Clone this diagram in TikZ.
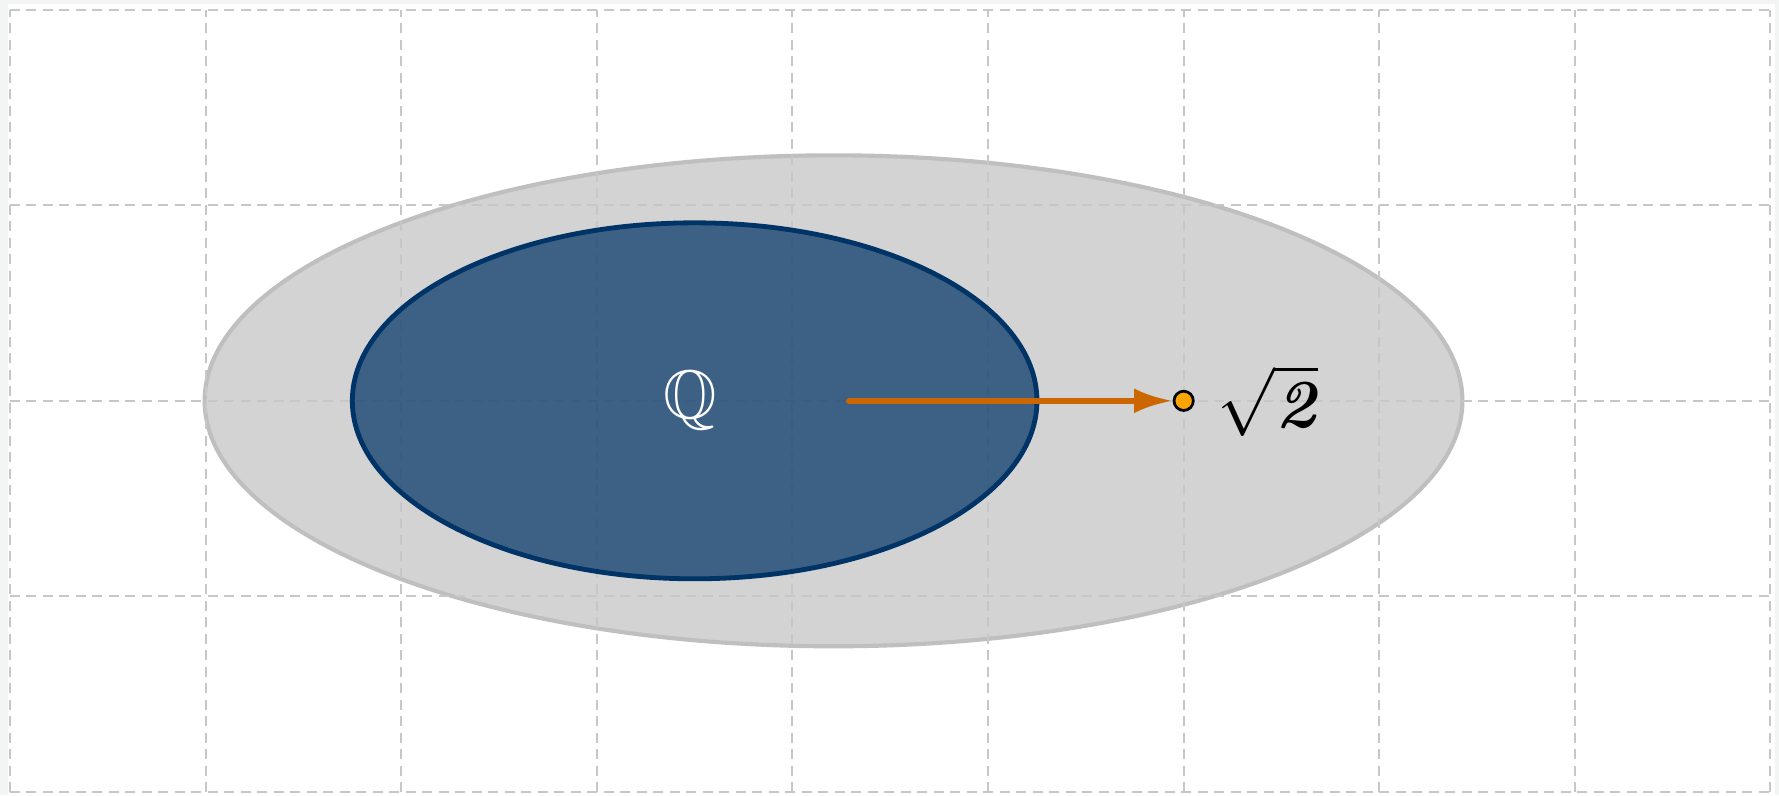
\documentclass[tikz,border=0pt]{standalone}
\usepackage{amssymb}
\usetikzlibrary{arrows.meta}
\definecolor{navy}{HTML}{003366}
\definecolor{arrowor}{HTML}{CC6600}
\definecolor{ptor}{HTML}{FFA500}
\definecolor{edgegray}{HTML}{F3F5F5}
\definecolor{setgray}{HTML}{D3D3D3}
\begin{document}
\begin{tikzpicture}[
  gridline/.style={draw=black!22, line width=0.3pt, dash pattern=on 1.4pt off 1pt},
  outerset/.style={draw=black!25, line width=0.6pt, fill=setgray},
  innerset/.style={draw=navy, line width=0.7pt, fill=navy, fill opacity=0.71},
  ptdot/.style={circle, draw=black, line width=0.4pt, fill=ptor, inner sep=0pt, minimum size=2.8pt},
  arrowline/.style={draw=arrowor, line width=0.9pt, line cap=round, -{Latex[length=5.6pt,width=3.6pt]}},
  setlabel/.style={text=white},
  ptlabel/.style={anchor=west, text=black}
]
\path[use as bounding box, fill=edgegray] (-0.0511,-0.0153) rectangle (9.0434,4.0491);
\fill[white] (-0.0102,-0.0153) rectangle (9.023,4.029);
\draw[outerset] (4.21,2) ellipse [x radius=3.215, y radius=1.255];
\draw[gridline] (0,0) grid (9,4);
\draw[innerset] (3.5,2) ellipse [x radius=1.75, y radius=0.91];
\node[setlabel] (Q) at (3.48,2) {$\mathbb{Q}$};
\coordinate (qstart) at (4.29,2);
\node[ptdot] (r2) at (6,2) {};
\node[ptlabel] (lab) at (6.05,2) {$\sqrt{\textbf{\textit{2}}}$};
\draw[arrowline] (qstart) -- (r2);
\end{tikzpicture}
\end{document}
